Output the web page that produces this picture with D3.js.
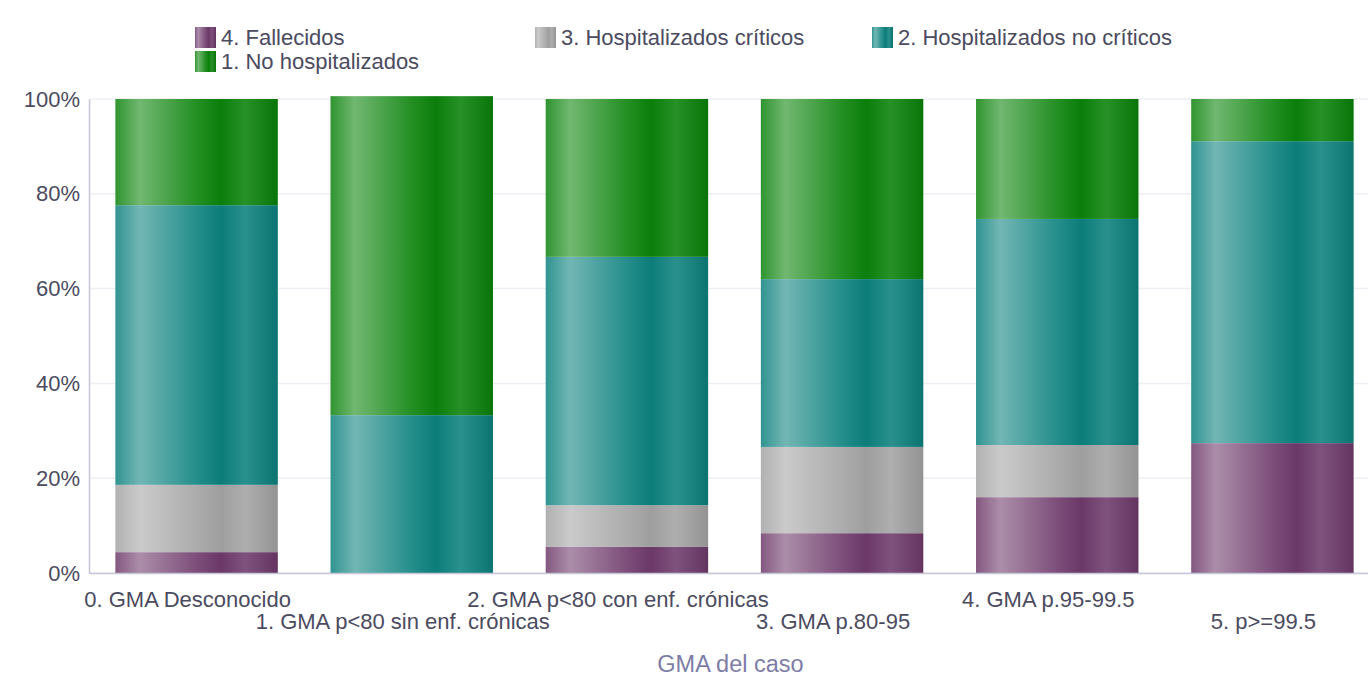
<!DOCTYPE html>
<html>
<head>
<meta charset="utf-8">
<script src="https://cdn.jsdelivr.net/npm/d3@7"></script>
<style>
  body { margin: 0; background: #fff; overflow: hidden; }
  svg { font-family: "Liberation Sans", Arial, sans-serif; }
</style>
</head>
<body>
<div id="chartDiv"></div>
<script>
// categories on the x axis
var categories = ["0. GMA Desconocido", "1. GMA p<80 sin enf. crónicas", "2. GMA p<80 con enf. crónicas",
                  "3. GMA p.80-95", "4. GMA p.95-99.5", "5. p>=99.5"];
// series, stacked bottom to top (percent of each bar)
var seriesNames = ["4. Fallecidos", "3. Hospitalizados críticos", "2. Hospitalizados no críticos", "1. No hospitalizados"];
var fallecidos  = [4.4, 0, 5.5, 8.4, 16.0, 27.4];
var criticos    = [14.2, 0, 8.8, 18.2, 11.0, 0];
var noCriticos  = [59.0, 33.3, 52.4, 35.4, 47.7, 63.7];
var noHosp      = [22.4, 67.3, 33.3, 38.0, 25.3, 8.9];
var seriesColors = ["#6e3a6b", "#a3a3a3", "#0c817e", "#0a820a"];
var yTicks = [0, 20, 40, 60, 80, 100];

var width = 1368, height = 681;
var margin = {left: 89, right: -12, top: 99, bottom: 108};

var svg = d3.select("#chartDiv").append("svg")
            .attr("width", width).attr("height", height);

var xScale = d3.scaleBand()
               .domain(categories)
               .range([margin.left, width - margin.right])
               .paddingInner(0.245).paddingOuter(0.1225);
var yScale = d3.scaleLinear()
               .domain([0, 100])
               .range([height - margin.bottom, margin.top]);

// metallic horizontal gradients, one per series
var defs = svg.append("defs");
seriesColors.forEach(function(c, i) {
    var base = d3.color(c);
    var stops = [
        [0, d3.interpolateRgb(base, "#fff")(0.15)],
        [0.15, d3.interpolateRgb(base, "#fff")(0.42)],
        [0.5, d3.interpolateRgb(base, "#fff")(0.1)],
        [0.65, d3.interpolateRgb(base, "#000")(0.03)],
        [0.8, d3.interpolateRgb(base, "#fff")(0.12)],
        [1, d3.interpolateRgb(base, "#000")(0.1)]
    ];
    var g = defs.append("linearGradient").attr("id", "grad" + i)
                .attr("x1", 0).attr("x2", 1).attr("y1", 0).attr("y2", 0);
    stops.forEach(function(s) {
        g.append("stop").attr("offset", s[0]).attr("stop-color", s[1]);
    });
});

// grid lines
svg.append("g").selectAll("line")
   .data(yTicks)
   .enter().append("line")
   .attr("x1", margin.left).attr("x2", width)
   .attr("y1", function(d) { return yScale(d); })
   .attr("y2", function(d) { return yScale(d); })
   .attr("stroke", "#eeeef4").attr("stroke-width", 1.5);

// y axis
var yAxis = svg.append("g")
               .attr("transform", "translate(" + margin.left + ",0)")
               .call(d3.axisLeft(yScale).tickValues(yTicks).tickSize(0).tickPadding(9)
                       .tickFormat(function(d) { return d + "%"; }));
yAxis.select(".domain").attr("stroke", "#c6c6d6").attr("stroke-width", 1.5);
yAxis.selectAll("text").attr("font-size", 22).attr("fill", "#4b4b60")
     .attr("font-family", "Liberation Sans, Arial, sans-serif");

// stacked bars
var rows = categories.map(function(c, i) {
    return {cat: c, s0: fallecidos[i], s1: criticos[i], s2: noCriticos[i], s3: noHosp[i]};
});
var stack = d3.stack().keys(["s0", "s1", "s2", "s3"]);
var layers = stack(rows);

svg.append("g").selectAll("g")
   .data(layers)
   .enter().append("g")
   .attr("fill", function(d, i) { return "url(#grad" + i + ")"; })
   .selectAll("rect")
   .data(function(d) { return d; })
   .enter().append("rect")
   .attr("x", function(d) { return xScale(d.data.cat); })
   .attr("width", xScale.bandwidth())
   .attr("y", function(d) { return yScale(d[1]); })
   .attr("height", function(d) { return Math.max(0, yScale(d[0]) - yScale(d[1])); });

// x axis
var xAxis = svg.append("g")
               .attr("transform", "translate(0," + yScale(0) + ")")
               .call(d3.axisBottom(xScale).tickSize(0).tickPadding(0));
xAxis.select(".domain").attr("stroke", "#c6c6d6").attr("stroke-width", 1.5);
xAxis.selectAll("text")
     .attr("font-size", 22).attr("fill", "#4b4b60")
     .attr("font-family", "Liberation Sans, Arial, sans-serif")
     .attr("dy", null)
     .attr("x", -9)
     .attr("y", function(d, i) { return i % 2 === 0 ? 34 : 56; });

svg.append("text")
   .attr("x", (margin.left + width - margin.right) / 2 - 4)
   .attr("y", 672)
   .attr("text-anchor", "middle")
   .attr("font-size", 23.5).attr("fill", "#7d7da6")
   .text("GMA del caso");

// legend
var legendPos = [[195, 27], [535, 27], [872, 27], [195, 51]];
var legendOrder = [0, 1, 2, 3];
var legend = svg.append("g").selectAll("g")
                .data(legendOrder)
                .enter().append("g")
                .attr("transform", function(d, i) { return "translate(" + legendPos[i][0] + "," + legendPos[i][1] + ")"; });
legend.append("rect")
      .attr("width", 21).attr("height", 21)
      .attr("fill", function(d) { return "url(#grad" + d + ")"; });
legend.append("text")
      .attr("x", 26).attr("y", 18)
      .attr("font-size", 22).attr("fill", "#4b4b60")
      .text(function(d) { return seriesNames[d]; });
</script>
</body>
</html>
